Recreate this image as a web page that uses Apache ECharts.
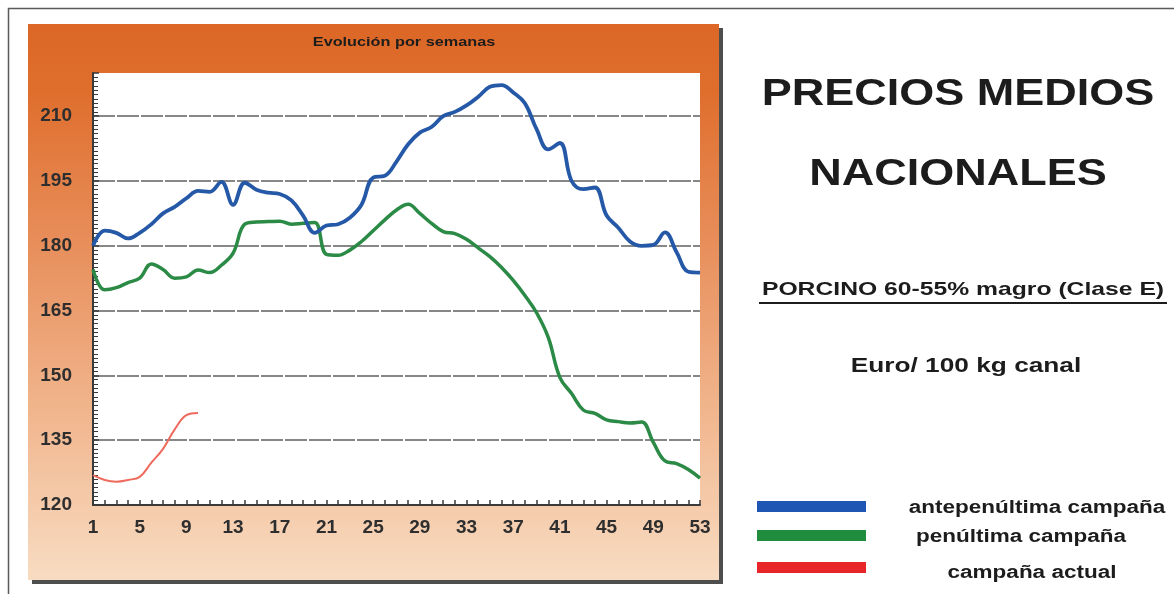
<!DOCTYPE html>
<html>
<head>
<meta charset="utf-8">
<script src="https://cdn.jsdelivr.net/npm/echarts@6/dist/echarts.min.js"></script>
<style>
html,body{margin:0;padding:0;background:#fff;}
#main{width:1174px;height:594px;}
</style>
</head>
<body>
<div id="main"></div>
<script>
// ---- data ----
const weeks = ['1','2','3','4','5','6','7','8','9','10','11','12','13','14','15','16','17','18','19','20',
  '21','22','23','24','25','26','27','28','29','30','31','32','33','34','35','36','37','38','39','40',
  '41','42','43','44','45','46','47','48','49','50','51','52','53'];
const antepenultima = [180,183.5,183,181.7,183,185,187.5,189,191,192.7,192.5,194.8,189.5,194.6,193,192.3,192,190.5,187,183,
  184.7,185,186.5,189.5,195.8,196.2,199.5,203.5,206.2,207.5,210,211,212.5,214.5,216.8,217.2,215.5,213,207,202.3,
  203.8,195,193.1,193.5,187,184.2,181,180,180.2,183.1,178.5,174,173.8];
const penultima = [174.5,169.8,170.3,171.5,172.5,175.8,174.5,172.5,172.8,174.4,173.8,175.5,178.3,185,185.5,185.6,185.7,185,185.2,185.4,
  178,177.8,179,181,183.5,186,188.3,189.6,187.5,185.2,183.3,182.8,181.5,179.5,177.5,175,172,168.5,164.5,158.8,
  149.5,145.8,142,141.2,139.7,139.3,139,139.2,134.5,130.2,129.6,128.2,126.2];
const actual = [126.9,125.8,125.4,125.8,126.5,129.8,133,137.5,140.8,141.3];
const seriesNames = ['antepenúltima campaña','penúltima campaña','campaña actual'];
const chartTitle = 'Evolución por semanas';
const headline1 = 'PRECIOS MEDIOS';
const headline2 = 'NACIONALES';
const subtitle = 'PORCINO 60-55% magro (Clase E)';
const unitText = 'Euro/ 100 kg canal';

const FONT = '"Liberation Sans", Arial, sans-serif';
const colors = ['#2558a6', '#2b8a45', '#ee6a5c'];
const legendColors = ['#1f56b3', '#1f8c3e', '#e8262a'];

function txt(x, y, text, size, scaleX, extra) {
  return Object.assign({
    type: 'text', x: x, y: y, scaleX: scaleX || 1, z: 10,
    style: {
      text: text, font: 'bold ' + size + 'px ' + FONT, fill: '#1c1c1c',
      align: 'center', verticalAlign: 'middle', textAlign: 'center', textVerticalAlign: 'middle'
    }
  }, extra || {});
}

const chart = echarts.init(document.getElementById('main'), null, {renderer: 'canvas'});
const option = {
  backgroundColor: '#ffffff',
  animation: false,
  grid: {
    left: 93, right: 474, top: 73, bottom: 89,
    show: true, backgroundColor: '#ffffff', borderWidth: 0
  },
  xAxis: {
    type: 'category', data: weeks, boundaryGap: false,
    axisLine: {show: true, lineStyle: {color: '#3a3a3a', width: 2}},
    axisTick: {show: true, interval: 0, inside: true, length: 5, lineStyle: {color: '#3a3a3a', width: 1.5}},
    axisLabel: {interval: 3, margin: 13, fontSize: 19, fontWeight: 'bold', color: '#2e2e2e', fontFamily: FONT},
    splitLine: {show: false}
  },
  yAxis: {
    type: 'value', min: 120, max: 220, interval: 15,
    axisLine: {show: true, lineStyle: {color: '#3a3a3a', width: 2}},
    axisTick: {show: true, inside: true, length: 6, lineStyle: {color: '#3a3a3a', width: 1.5}},
    minorTick: {show: true, splitNumber: 15, length: 5, lineStyle: {color: '#3a3a3a', width: 1}},
    axisLabel: {margin: 21, fontSize: 19, fontWeight: 'bold', color: '#2e2e2e', fontFamily: FONT, showMaxLabel: false},
    splitLine: {show: true, showMaxLine: false, lineStyle: {color: '#878787', width: 2, type: [22, 2]}}
  },
  series: [
    {name: seriesNames[0], type: 'line', data: antepenultima, smooth: 0.4, showSymbol: false,
      lineStyle: {color: colors[0], width: 3.8}, itemStyle: {color: colors[0]}, z: 5},
    {name: seriesNames[1], type: 'line', data: penultima, smooth: 0.4, showSymbol: false,
      lineStyle: {color: colors[1], width: 3.5}, itemStyle: {color: colors[1]}, z: 4},
    {name: seriesNames[2], type: 'line', data: actual, smooth: 0.4, showSymbol: false,
      lineStyle: {color: colors[2], width: 2}, itemStyle: {color: colors[2]}, z: 4}
  ],
  graphic: [
    // outer frame
    {type: 'rect', shape: {x: 8.5, y: 8.5, width: 1200, height: 700}, style: {fill: 'none', stroke: '#5a5a5a', lineWidth: 1.5}, z: -20},
    // panel shadow
    {type: 'rect', shape: {x: 32, y: 28, width: 691, height: 556}, style: {fill: '#4e4e4e'}, z: -15},
    // orange panel
    {type: 'rect', shape: {x: 28, y: 24, width: 691, height: 556},
      style: {fill: new echarts.graphic.LinearGradient(0, 0, 0, 1, [
        {offset: 0, color: '#dc6726'},
        {offset: 0.12, color: '#df6e2d'},
        {offset: 0.4, color: '#e88f5c'},
        {offset: 0.7, color: '#f1b68e'},
        {offset: 1, color: '#f8dcc2'}
      ])}, z: -10},
    txt(404, 42, chartTitle, 13, 1.25),
    txt(958, 95, headline1, 36, 1.25),
    txt(958, 175, headline2, 36, 1.25),
    txt(963, 290, subtitle, 19, 1.3),
    {type: 'line', shape: {x1: 759, y1: 303, x2: 1167, y2: 303}, style: {stroke: '#1c1c1c', lineWidth: 2}, z: 10},
    txt(966, 366, unitText, 21, 1.25),
    // legend
    {type: 'rect', shape: {x: 757, y: 501, width: 109, height: 11}, style: {fill: legendColors[0]}, z: 10},
    {type: 'rect', shape: {x: 757, y: 530, width: 109, height: 11}, style: {fill: legendColors[1]}, z: 10},
    {type: 'rect', shape: {x: 757, y: 562, width: 109, height: 11}, style: {fill: legendColors[2]}, z: 10},
    txt(1037, 508, seriesNames[0], 18, 1.25),
    txt(1021, 537, seriesNames[1], 18, 1.25),
    txt(1032, 573, seriesNames[2], 18, 1.25)
  ]
};
chart.setOption(option);
</script>
</body>
</html>
